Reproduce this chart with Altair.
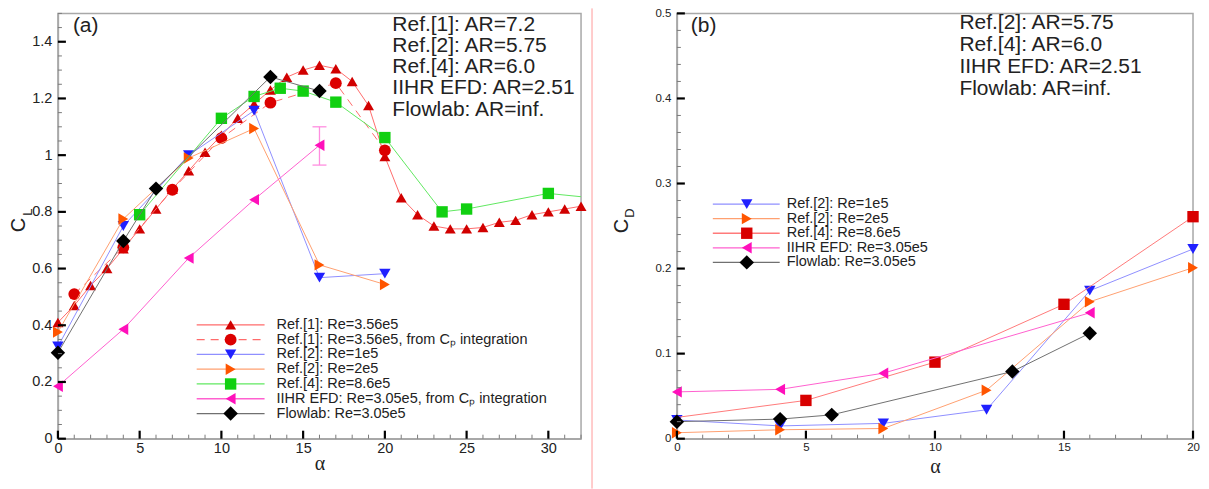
import altair as alt
import pandas as pd

# ---------------- panel (a): lift coefficient C_L vs alpha ----------------
ref1_alpha = list(range(0, 33))
ref1_cl = [0.41, 0.47, 0.54, 0.60, 0.67, 0.74, 0.81, 0.88, 0.945, 1.01,
           1.07, 1.13, 1.18, 1.23, 1.275, 1.30, 1.317, 1.305, 1.26, 1.175,
           0.995, 0.85, 0.79, 0.75, 0.74, 0.74, 0.745, 0.763, 0.77, 0.79,
           0.80, 0.81, 0.82]
ref1cp_alpha = [1, 4, 7, 10, 13, 17, 20]
ref1cp_cl = [0.51, 0.675, 0.878, 1.06, 1.185, 1.254, 1.017]
ref2_alpha = [0, 4, 8, 12, 16, 20]
ref2_re1_cl = [0.325, 0.75, 1.0, 1.157, 0.568, 0.582]
ref2_re2_cl = [0.376, 0.775, 0.99, 1.094, 0.613, 0.544]
ref4_alpha = [5, 10, 12, 13.6, 15, 17, 20, 23.5, 25, 30, 35]
ref4_cl = [0.79, 1.13, 1.207, 1.236, 1.226, 1.187, 1.062, 0.80, 0.81, 0.865, 0.836]
iihr_alpha = [0, 4, 8, 12, 16]
iihr_cl = [0.185, 0.386, 0.637, 0.843, 1.035]
iihr_err_alpha = [16]
iihr_err_lo = [0.965]
iihr_err_hi = [1.10]
flow_alpha = [0, 4, 6, 13, 16]
flow_cl = [0.303, 0.697, 0.882, 1.276, 1.226]

a_xticks_major = [0, 5, 10, 15, 20, 25, 30]
a_xticks_minor = [i for i in range(0, 33) if i % 5]
a_yticks_major = [0, 0.2, 0.4, 0.6, 0.8, 1.0, 1.2, 1.4]
a_yticks_minor = [round(i * 0.05, 2) for i in range(31) if i % 4]
a_notes = ["Ref.[1]: AR=7.2", "Ref.[2]: AR=5.75", "Ref.[4]: AR=6.0",
           "IIHR EFD: AR=2.51", "Flowlab: AR=inf."]
a_legend = ["Ref.[1]: Re=3.56e5", "Ref.[1]: Re=3.56e5, from C\u209a integration",
            "Ref.[2]: Re=1e5", "Ref.[2]: Re=2e5", "Ref.[4]: Re=8.6e5",
            "IIHR EFD: Re=3.05e5, from C\u209a integration", "Flowlab: Re=3.05e5"]

# ---------------- panel (b): drag coefficient C_D vs alpha ----------------
b_ref2_alpha = [0, 4, 8, 12, 16, 20]
b_ref2_re1_cd = [0.022, 0.015, 0.018, 0.034, 0.174, 0.223]
b_ref2_re2_cd = [0.007, 0.0105, 0.012, 0.057, 0.161, 0.201]
b_ref4_alpha = [0, 5, 10, 15, 20]
b_ref4_cd = [0.025, 0.045, 0.09, 0.158, 0.261]
b_iihr_alpha = [0, 4, 8, 16]
b_iihr_cd = [0.055, 0.058, 0.077, 0.148]
b_flow_alpha = [0, 4, 6, 13, 16]
b_flow_cd = [0.020, 0.023, 0.028, 0.079, 0.124]

b_xticks_major = [0, 5, 10, 15, 20]
b_xticks_minor = [i for i in range(0, 21) if i % 5]
b_yticks_major = [0, 0.1, 0.2, 0.3, 0.4, 0.5]
b_yticks_minor = [round(i * 0.02, 2) for i in range(26) if i % 5]
b_notes = ["Ref.[2]: AR=5.75", "Ref.[4]: AR=6.0", "IIHR EFD: AR=2.51", "Flowlab: AR=inf."]
b_legend = ["Ref.[2]: Re=1e5", "Ref.[2]: Re=2e5", "Ref.[4]: Re=8.6e5",
            "IIHR EFD: Re=3.05e5", "Flowlab: Re=3.05e5"]

# ---------------- styles ----------------
FONT = "Liberation Sans"
TXT = "#222222"
FRAME = "#a8a8a8"
STY = {
    "ref1": dict(line="#ff6b6b", mark="#d10000", shape="triangle-up", size=120),
    "ref1cp": dict(line="#ff6b6b", mark="#dc0000", shape="circle", size=140, dash=[8, 6]),
    "ref2a": dict(line="#8f8fff", mark="#2020ff", shape="triangle-down", size=130),
    "ref2b": dict(line="#ffa070", mark="#ff5500", shape="triangle-right", size=130),
    "ref4g": dict(line="#60e860", mark="#11d011", shape="square", size=130),
    "ref4r": dict(line="#ff7a7a", mark="#d80000", shape="square", size=130),
    "iihr": dict(line="#ff60cf", mark="#ff10bb", shape="triangle-left", size=130),
    "flow": dict(line="#707070", mark="#000000", shape="diamond", size=210),
}

W_A, W_B, H = 524, 517, 426


def make_axes(xvals, yvals, lab_size, title_pad):
    xaxis = alt.Axis(values=xvals, ticks=False, grid=False, domainColor=FRAME, domainWidth=1.5,
                     labelFont=FONT, labelFontSize=lab_size, labelColor=TXT, labelPadding=3,
                     labelFlush=False, format="~g", title="\u03b1", titleFont="Liberation Serif",
                     titleFontSize=20, titleFontWeight="normal", titleColor=TXT, titlePadding=title_pad)
    yaxis = alt.Axis(values=yvals, ticks=False, grid=False, domainColor=FRAME, domainWidth=1.5,
                     labelFont=FONT, labelFontSize=lab_size, labelColor=TXT, labelPadding=6,
                     labelFlush=False, format="~g", title=None)
    return xaxis, yaxis


class Panel:
    def __init__(self, xs, ys, xaxis, yaxis):
        self.xs, self.ys, self.xaxis, self.yaxis = xs, ys, xaxis, yaxis

    def X(self, f):
        return alt.X(f, scale=self.xs, axis=self.xaxis)

    def Y(self, f):
        return alt.Y(f, scale=self.ys, axis=self.yaxis)


def series(P, alpha, val, st, xmax=None, pts_from=None):
    df = pd.DataFrame({"a": alpha, "v": val})
    enc = dict(x=P.X("a:Q"), y=P.Y("v:Q"))
    lk = dict(color=st["line"], strokeWidth=1, clip=True)
    if "dash" in st:
        lk["strokeDash"] = st["dash"]
    line = alt.Chart(df).mark_line(**lk).encode(**enc)
    pdf = df
    if xmax is not None:
        pdf = pdf[pdf.a <= xmax]
    if pts_from is not None:
        pdf = pdf[pdf.a >= pts_from]
    pts = alt.Chart(pdf).mark_point(shape=st["shape"], filled=True, size=st["size"],
                                    color=st["mark"], opacity=1).encode(**enc)
    return [line, pts]


def ticks(P, xmaj, xmin, ymaj, ymin):
    out = []
    for vals, ln, col, wd in [(ymin, 4, "#7a7a7a", 1), (ymaj, 8, "#000000", 2.2)]:
        out.append(alt.Chart(pd.DataFrame({"v": vals})).mark_rule(color=col, strokeWidth=wd).encode(
            y=P.Y("v:Q"), x=alt.value(0), x2=alt.value(ln)))
    for vals, ln, col, wd in [(xmin, 4, "#7a7a7a", 1), (xmaj, 8, "#000000", 2.2)]:
        out.append(alt.Chart(pd.DataFrame({"a": vals})).mark_rule(color=col, strokeWidth=wd).encode(
            x=P.X("a:Q"), y=alt.value(H), y2=alt.value(H - ln)))
    return out


def text_at(t, x, y, size, align="left", angle=None, font=FONT):
    kw = dict(align=align, baseline="middle", fontSize=size, font=font, color=TXT)
    if angle is not None:
        kw["angle"] = angle
    return alt.Chart(pd.DataFrame({"t": [t]})).mark_text(**kw).encode(
        x=alt.value(x), y=alt.value(y), text="t:N")


def legend(labels, styles, x0, x1, xm, xt, y0, dy):
    out = []
    for i, (lab, st) in enumerate(zip(labels, styles)):
        y = y0 + i * dy
        rk = dict(color=st["line"], strokeWidth=1.3)
        if "dash" in st:
            rk["strokeDash"] = st["dash"]
        d = pd.DataFrame({"k": [0]})
        out.append(alt.Chart(d).mark_rule(**rk).encode(x=alt.value(x0), x2=alt.value(x1), y=alt.value(y)))
        out.append(alt.Chart(d).mark_point(shape=st["shape"], filled=True, size=st["size"],
                                           color=st["mark"], opacity=1).encode(x=alt.value(xm), y=alt.value(y)))
        out.append(text_at(lab, xt, y, 14.5))
    return out


# ---------------- panel (a) ----------------
xa, ya = make_axes(a_xticks_major, a_yticks_major, 14.5, -2)
PA = Panel(alt.Scale(domain=[0, 32], nice=False, zero=False),
           alt.Scale(domain=[0, 1.5], nice=False, zero=False), xa, ya)

layers_a = []
layers_a += series(PA, ref1_alpha, ref1_cl, STY["ref1"])
layers_a += series(PA, ref1cp_alpha, ref1cp_cl, STY["ref1cp"])
layers_a += series(PA, ref2_alpha, ref2_re1_cl, STY["ref2a"])
layers_a += series(PA, ref2_alpha, ref2_re2_cl, STY["ref2b"])
layers_a += series(PA, ref4_alpha, ref4_cl, STY["ref4g"], xmax=32)
err_df = pd.DataFrame({"a": iihr_err_alpha, "lo": iihr_err_lo, "hi": iihr_err_hi})
layers_a.append(alt.Chart(err_df).mark_rule(color="#ff8ee0", strokeWidth=1.3).encode(
    x=PA.X("a:Q"), y=PA.Y("lo:Q"), y2="hi:Q"))
for col in ["lo", "hi"]:
    layers_a.append(alt.Chart(err_df).mark_rule(color="#ff8ee0", strokeWidth=1.3, xOffset=-7, x2Offset=7).encode(
        x=PA.X("a:Q"), x2="a:Q", y=PA.Y(f"{col}:Q")))
layers_a += series(PA, iihr_alpha, iihr_cl, STY["iihr"])
layers_a += series(PA, flow_alpha, flow_cl, STY["flow"])
layers_a += ticks(PA, a_xticks_major, a_xticks_minor, a_yticks_major, a_yticks_minor)
layers_a.append(text_at("(a)", 15, 13, 21))
for i, t in enumerate(a_notes):
    layers_a.append(text_at(t, 335, 11.5 + i * 21.2, 21))
layers_a += legend(a_legend, [STY[k] for k in ["ref1", "ref1cp", "ref2a", "ref2b", "ref4g", "iihr", "flow"]],
                   139, 207, 173, 219, 312, 14.8)
layers_a.append(text_at("C", -39, 212, 20, align="center", angle=270))
layers_a.append(text_at("L", -30, 199, 13, align="center", angle=270))
# thin red separator line between the panels
layers_a.append(alt.Chart(pd.DataFrame({"k": [0]})).mark_rule(color="#ff9a9a", strokeWidth=1).encode(
    x=alt.value(535), y=alt.value(-5), y2=alt.value(H + 50)))

panel_a = alt.layer(*layers_a).properties(width=W_A, height=H)

# ---------------- panel (b) ----------------
xb, yb = make_axes(b_xticks_major, b_yticks_major, 11.5, 3)
PB = Panel(alt.Scale(domain=[0, 20], nice=False, zero=False),
           alt.Scale(domain=[0, 0.5], nice=False, zero=False), xb, yb)

layers_b = []
layers_b += series(PB, b_ref2_alpha, b_ref2_re1_cd, STY["ref2a"])
layers_b += series(PB, b_ref2_alpha, b_ref2_re2_cd, STY["ref2b"])
layers_b += series(PB, b_ref4_alpha, b_ref4_cd, STY["ref4r"], pts_from=1)
layers_b += series(PB, b_iihr_alpha, b_iihr_cd, STY["iihr"])
layers_b += series(PB, b_flow_alpha, b_flow_cd, STY["flow"])
layers_b += ticks(PB, b_xticks_major, b_xticks_minor, b_yticks_major, b_yticks_minor)
layers_b.append(text_at("(b)", 14, 13, 21))
for i, t in enumerate(b_notes):
    layers_b.append(text_at(t, 283, 10 + i * 21.8, 21))
layers_b += legend(b_legend, [STY[k] for k in ["ref2a", "ref2b", "ref4r", "iihr", "flow"]],
                   36, 103, 70, 110, 191, 14.6)
layers_b.append(text_at("C", -55, 213, 20, align="center", angle=270))
layers_b.append(text_at("D", -47, 200, 13, align="center", angle=270))

panel_b = alt.layer(*layers_b).properties(width=W_B, height=H)

chart = alt.hconcat(panel_a, panel_b, spacing=96, bounds="flush").properties(
    padding={"left": 0, "top": -2, "right": 0, "bottom": 0}
).configure_view(stroke=FRAME, strokeWidth=1.5)

chart.save("out.html", embed_options={"renderer": "svg", "actions": False})
